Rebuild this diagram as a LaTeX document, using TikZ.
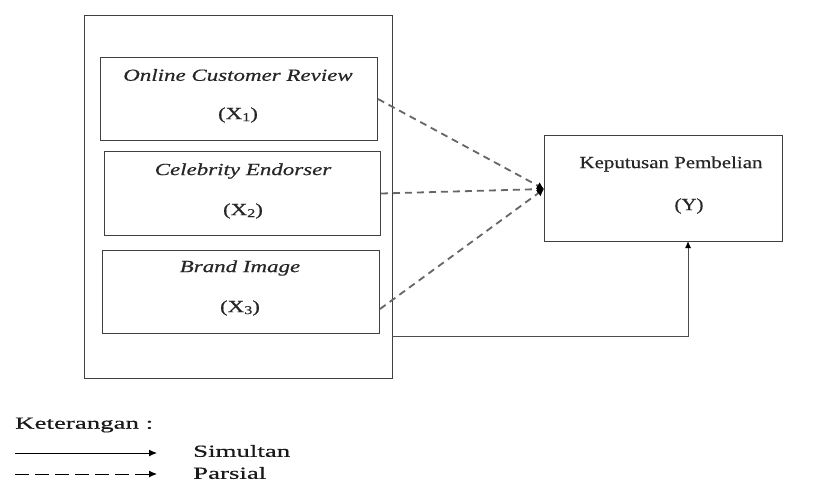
\documentclass[tikz,border=0pt]{standalone}
\usepackage{fontspec}
\setmainfont[FakeStretch=1.35,FakeBold=0.5]{Liberation Serif}
\newfontfamily\yfont[FakeStretch=1.23,FakeBold=0.5]{Liberation Serif}
\newfontfamily\legfont[FakeStretch=1.58,FakeBold=0.5]{Liberation Serif}
\usetikzlibrary{arrows.meta}
\begin{document}
\begin{tikzpicture}[x=1pt,y=-1pt,
  box/.style={draw=black!75, line width=1pt, anchor=north west, inner sep=0pt},
  lbl/.style={font=\fontsize{17}{19}\selectfont, text=black!85, inner sep=0pt},
  ylbl/.style={font=\yfont\fontsize{17}{19}\selectfont, text=black!85, inner sep=0pt},
  leg/.style={font=\legfont\fontsize{17}{19}\selectfont, text=black!90, inner sep=0pt},
  dash line/.style={draw=black!60, line width=1.8pt, dash pattern=on 7pt off 5pt, -{Latex[length=7pt,width=8pt,color=black]}},
  solid line/.style={draw=black!70, line width=1pt, -{Latex[length=7pt,width=6pt,color=black]}}]
\useasboundingbox (0,0) rectangle (813,485);
\node[box, minimum width=308pt, minimum height=363pt] (outer) at (84,15) {};
\node[box, minimum width=277pt, minimum height=83pt] (b1) at (100,57) {};
\node[box, minimum width=276pt, minimum height=84pt] (b2) at (104,151) {};
\node[box, minimum width=277pt, minimum height=83pt] (b3) at (102,250) {};
\node[box, minimum width=238pt, minimum height=106pt] (y) at (544,135) {};
\node[lbl] (t1) at (238,75) {\itshape Online Customer Review};
\node[lbl] (s1) at (238,115) {(X\raisebox{-0.25ex}{\fontsize{12}{13}\selectfont 1})};
\node[lbl] (t2) at (243,171) {\itshape Celebrity Endorser};
\node[lbl] (s2) at (243,211) {(X\raisebox{-0.25ex}{\fontsize{12}{13}\selectfont 2})};
\node[lbl] (t3) at (240,268) {\itshape Brand Image};
\node[lbl] (s3) at (240,308) {(X\raisebox{-0.25ex}{\fontsize{12}{13}\selectfont 3})};
\node[ylbl] (ty) at (671,164) {Keputusan Pembelian};
\node[ylbl] (sy) at (689,206) {(Y)};
\coordinate (tgt) at (544,189);
\draw[dash line] (b1.east) -- (tgt);
\draw[dash line] (b2.east) -- (tgt);
\draw[dash line] ([yshift=-17pt]b3.east) -- (tgt);
\coordinate (sfrom) at (392,336);
\coordinate (sto) at (688,241);
\draw[solid line] (sfrom) -| (sto);
% legend
\node[leg, anchor=west] (ket) at (15,425) {Keterangan :};
\coordinate (l1a) at (15,453);
\coordinate (l1b) at (157,453);
\coordinate (l2a) at (15,474);
\coordinate (l2b) at (157,474);
\draw[draw=black, line width=1pt, -{Latex[length=8pt,width=7pt]}] (l1a) -- (l1b);
\draw[draw=black, line width=1pt, dash pattern=on 14pt off 6pt, -{Latex[length=8pt,width=7pt]}] (l2a) -- (l2b);
\node[leg, anchor=west] (sim) at (193,451) {Simultan};
\node[leg, anchor=west] (par) at (193,473) {Parsial};
\end{tikzpicture}
\end{document}
